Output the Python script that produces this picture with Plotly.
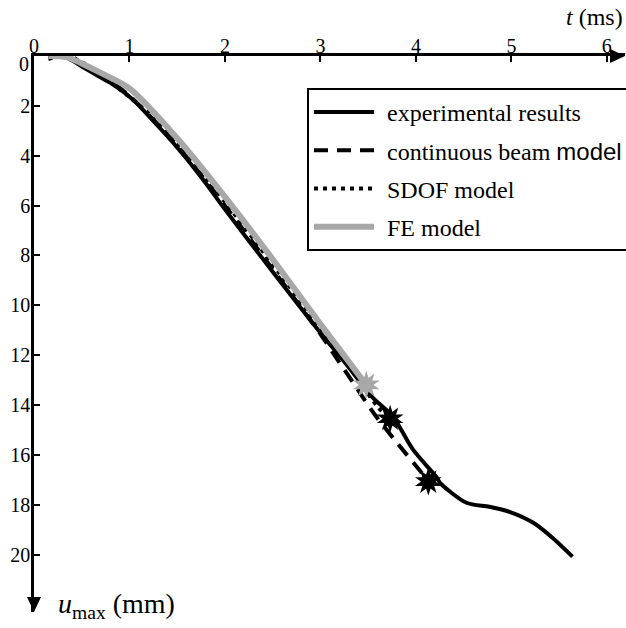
import plotly.graph_objects as go

# ---- data (t in ms, u in mm) ----
exp_t = [0.15, 0.35, 0.51, 0.69, 0.80, 1.04, 1.21, 1.46, 1.75, 2.0, 2.5, 3.0, 3.3, 3.54, 3.76, 3.97, 4.22, 4.25, 4.53, 4.77, 4.98, 5.23, 5.43, 5.64]
exp_u = [0.0, 0.08, 0.44, 0.84, 1.08, 1.76, 2.44, 3.49, 4.85, 6.15, 8.65, 11.1, 12.5, 13.67, 14.47, 15.79, 16.91, 17.11, 17.92, 18.08, 18.28, 18.72, 19.32, 20.08]

beam_t = [0.2, 0.4, 0.7, 1.0, 1.5, 2.0, 2.5, 3.0, 3.13, 3.33, 3.57, 3.81, 4.05, 4.13]
beam_u = [0.0, 0.1, 0.75, 1.6, 3.6, 6.0, 8.55, 11.15, 11.9, 13.03, 14.39, 15.55, 16.67, 17.07]

sdof_t = [0.15, 0.36, 0.47, 0.57, 0.66, 0.75, 0.83, 0.92, 1.0, 1.09, 1.18, 1.26, 1.34, 1.41, 1.5, 2.0, 2.5, 3.0, 3.3, 3.6, 3.73]
sdof_u = [0.12, -0.04, 0.2, 0.38, 0.64, 0.88, 1.1, 1.4, 1.64, 1.94, 2.22, 2.5, 2.82, 3.12, 3.45, 5.85, 8.35, 10.9, 12.45, 14.07, 14.55]

fe_t = [0.15, 0.35, 0.5, 0.7, 1.0, 1.5, 2.0, 2.5, 3.0, 3.48]
fe_u = [0.0, 0.05, 0.3, 0.68, 1.3, 3.3, 5.65, 8.15, 10.75, 13.19]

# failure points (end of each model)
fail_black_t = [sdof_t[-1], beam_t[-1]]
fail_black_u = [sdof_u[-1], beam_u[-1]]
fail_grey_t = [fe_t[-1]]
fail_grey_u = [fe_u[-1]]

x_ticks = [0, 1, 2, 3, 4, 5, 6]
y_ticks = [2, 4, 6, 8, 10, 12, 14, 16, 18, 20]

GREY = "#a8a8a8"
FONT = "Times New Roman, Liberation Serif, Tinos, serif"
SP = "\u2004"

fig = go.Figure()
fig.add_trace(go.Scatter(x=exp_t, y=exp_u, mode="lines", name=SP + "experimental results",
                         line=dict(color="black", width=4, shape="spline", smoothing=0.8),
                         legendgroup="a"))
fig.add_trace(go.Scatter(x=beam_t, y=beam_u, mode="lines",
                         name=SP + 'continuous beam <span style="font-family:Liberation Sans, Arial, sans-serif">model</span>',
                         line=dict(color="black", width=4, dash="14px,9px", shape="spline", smoothing=0.8),
                         legendgroup="b"))
fig.add_trace(go.Scatter(x=sdof_t, y=sdof_u, mode="lines", name=SP + "SDOF model",
                         line=dict(color="black", width=4, dash="4px,5px", shape="spline", smoothing=0.8),
                         legendgroup="c"))
fig.add_trace(go.Scatter(x=fe_t, y=fe_u, mode="lines", name=SP + "FE model",
                         line=dict(color=GREY, width=6, shape="spline", smoothing=0.8),
                         legendgroup="d"))
for ang in (0, 36):
    fig.add_trace(go.Scatter(x=fail_grey_t, y=fail_grey_u, mode="markers", showlegend=False,
                             marker=dict(symbol="star", size=20, color=GREY, angle=ang, line=dict(width=0))))
    fig.add_trace(go.Scatter(x=fail_black_t, y=fail_black_u, mode="markers", showlegend=False,
                             marker=dict(symbol="star", size=20, color="black", angle=ang, line=dict(width=0))))

W, H = 626, 628
L, R, T, B = 34, 1, 56, 16
pw, ph = W - L - R, H - T - B

fig.update_layout(
    width=W, height=H,
    margin=dict(l=L, r=R, t=T, b=B, autoexpand=False),
    paper_bgcolor="white", plot_bgcolor="white",
    font=dict(family=FONT, size=19, color="black"),
    xaxis=dict(side="top", range=[0, 6.19], tickvals=x_ticks, ticks="inside", ticklen=6,
               tickwidth=2, tickcolor="black", showline=True, linecolor="black", linewidth=2.5,
               showgrid=False, zeroline=False, ticklabelstandoff=-8,
               tickfont=dict(family=FONT, size=20)),
    yaxis=dict(range=[22.3, 0], tickvals=y_ticks, ticks="inside", ticklen=6,
               tickwidth=2, tickcolor="black", showline=True, linecolor="black", linewidth=2.5,
               showgrid=False, zeroline=False, ticklabelstandoff=-3,
               tickfont=dict(family=FONT, size=20)),
    legend=dict(x=(307 - L) / pw, y=(H - B - 88) / ph, xanchor="left", yanchor="top",
                bordercolor="black", borderwidth=2, bgcolor="white",
                font=dict(family=FONT, size=24), itemwidth=60, tracegroupgap=4,
                traceorder="grouped"),
    showlegend=True,
)

# axis arrows
fig.add_shape(type="path", xref="paper", yref="paper", xsizemode="pixel", ysizemode="pixel",
              xanchor=1, yanchor=1, path="M0,0 L-15,7 L-15,-7 Z",
              fillcolor="black", line=dict(width=0))
fig.add_shape(type="path", xref="paper", yref="paper", xsizemode="pixel", ysizemode="pixel",
              xanchor=0, yanchor=0, path="M0,0 L-7,15 L7,15 Z",
              fillcolor="black", line=dict(width=0))

# axis titles and the lone zero label
fig.add_annotation(text="<i>t</i> (ms)", xref="paper", yref="paper", x=1, y=1 + 39 / ph,
                   xanchor="right", yanchor="middle", showarrow=False,
                   font=dict(family=FONT, size=24))
fig.add_annotation(text="<i>u</i><sub>max</sub> (mm)", xref="paper", yref="paper",
                   x=(56 - L) / pw, y=(H - B - 605) / ph, xanchor="left", yanchor="middle",
                   showarrow=False, font=dict(family=FONT, size=28))
fig.add_annotation(text="0", xref="paper", yref="y", x=0, y=0, xanchor="right", yanchor="middle",
                   xshift=-3, yshift=-8, showarrow=False, font=dict(family=FONT, size=20))

fig.write_html("out.html")
